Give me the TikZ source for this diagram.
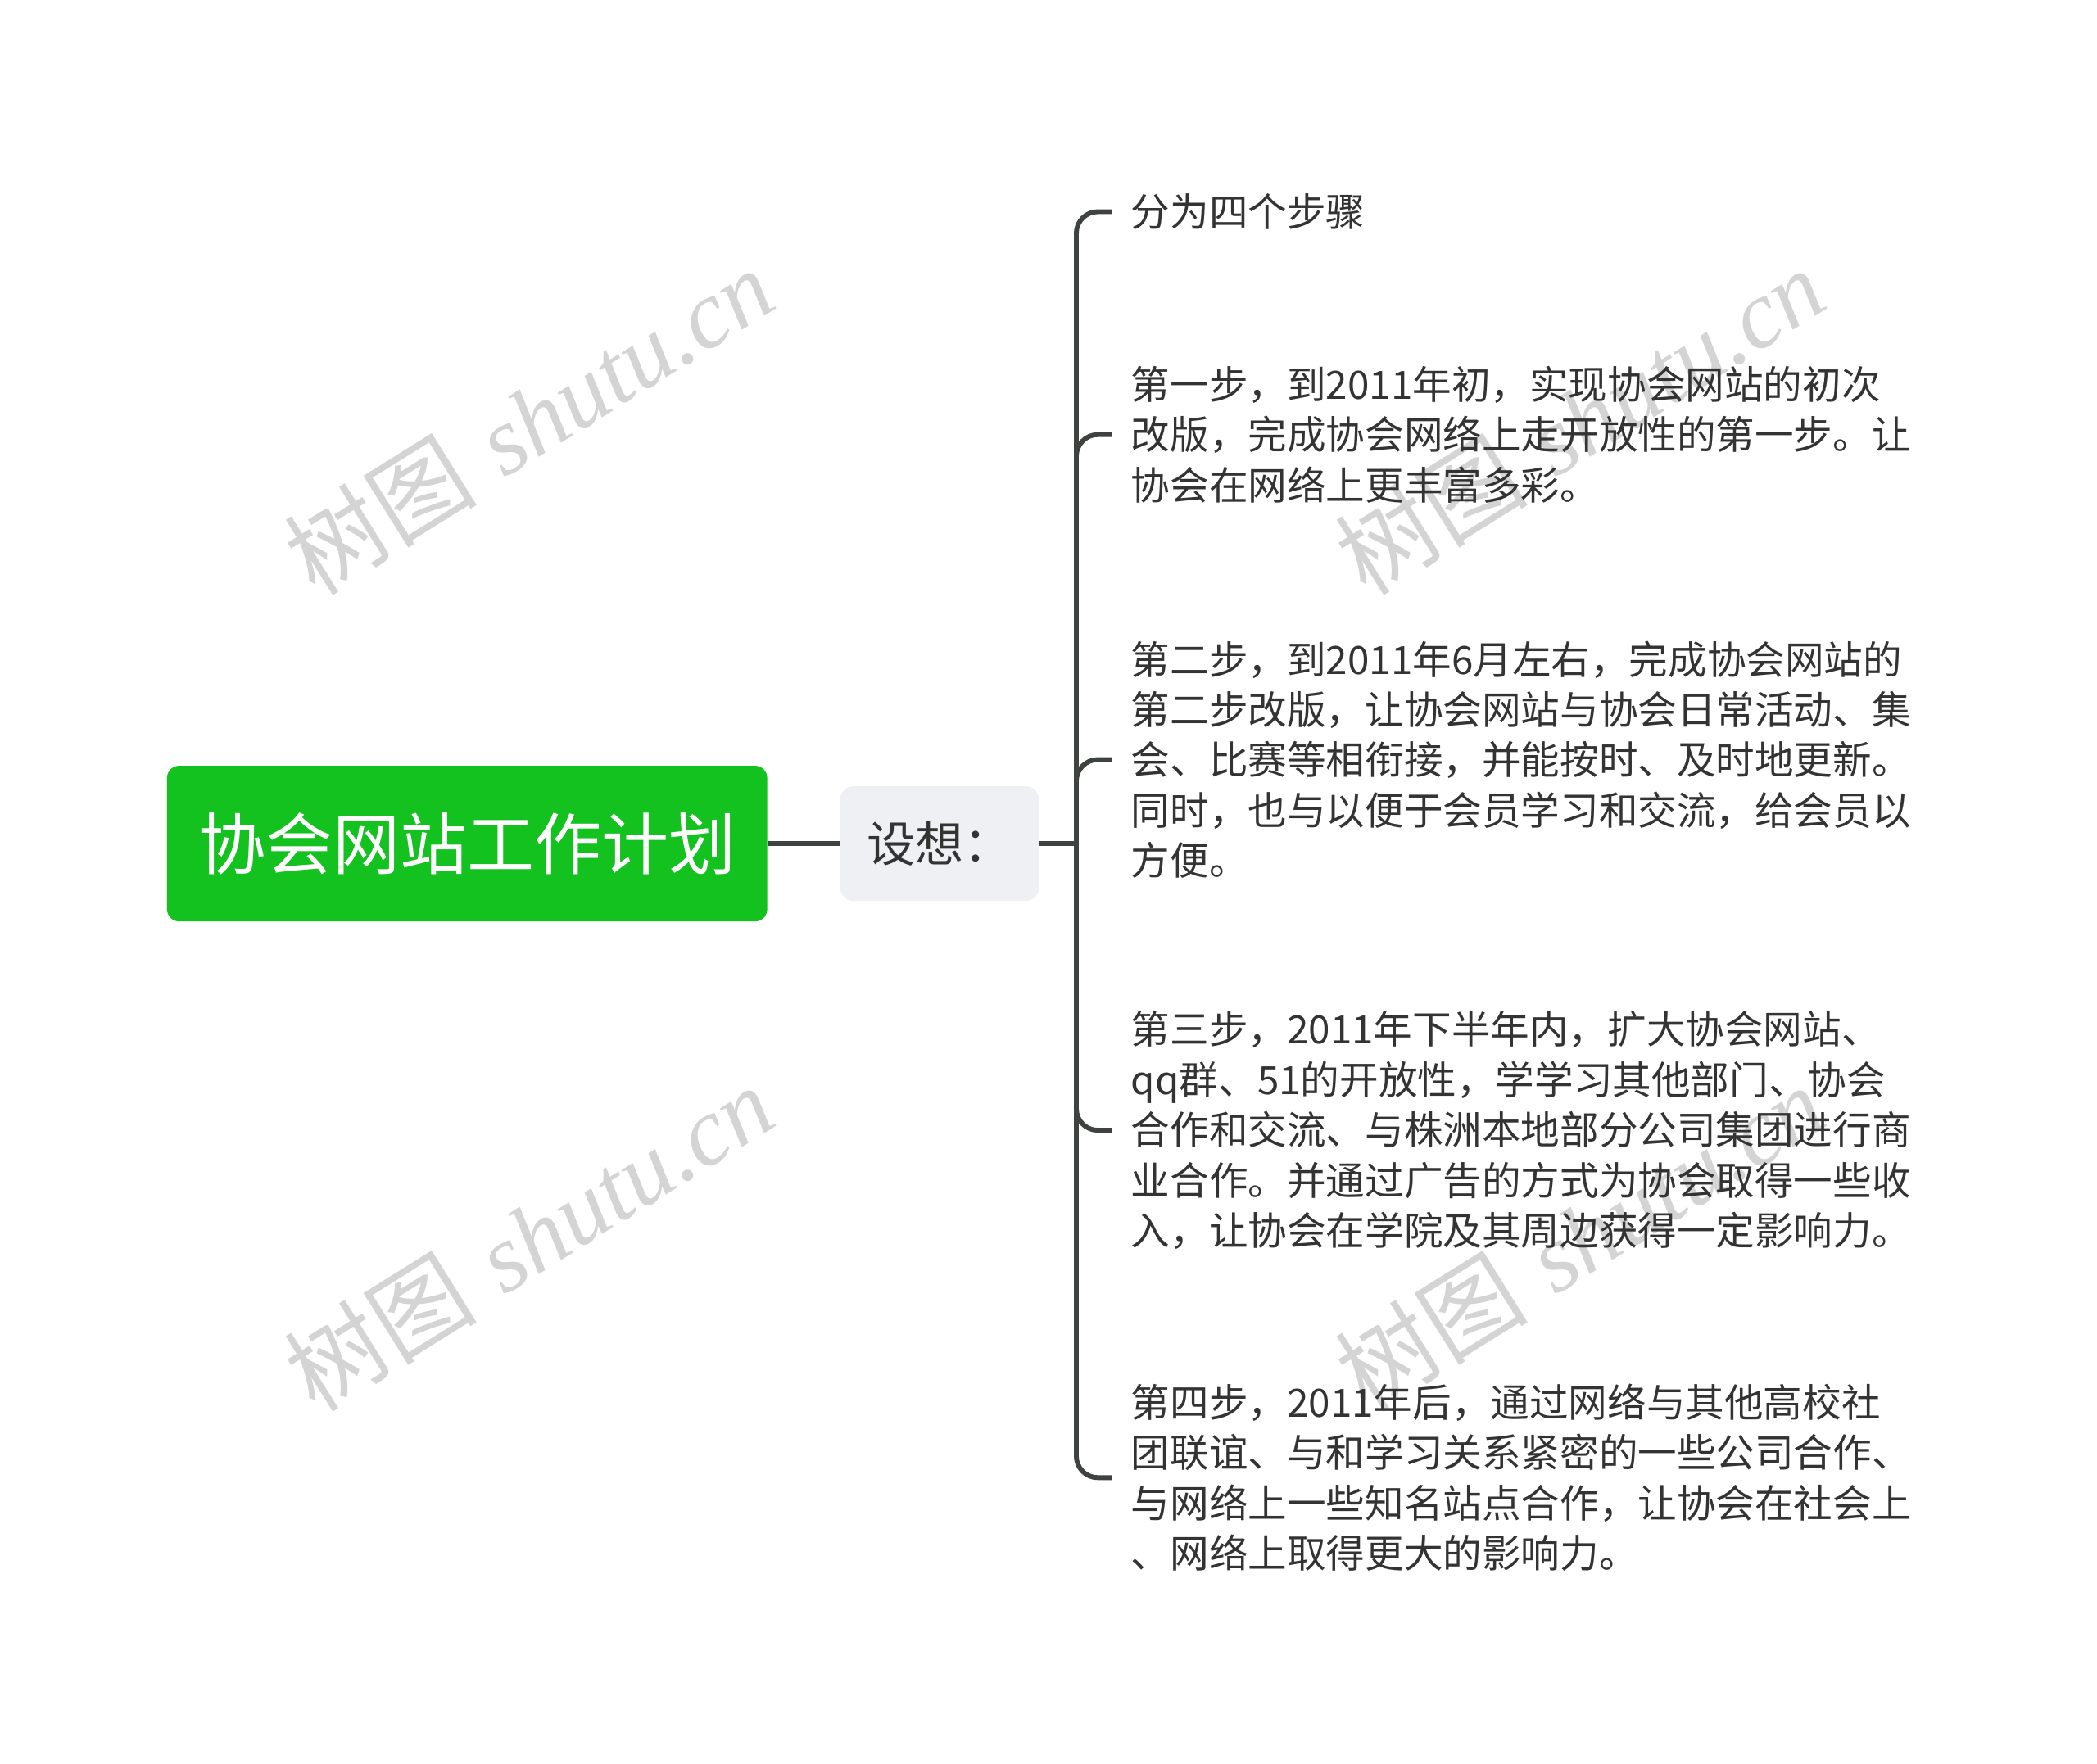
\documentclass[tikz,border=0pt]{standalone}
\usepackage{fontspec}
\newfontfamily\cjk{Noto Sans CJK SC}
\newfontfamily\wmlat{Liberation Serif}
\definecolor{maingreen}{HTML}{13C21F}
\definecolor{subfill}{HTML}{EEF0F3}
\definecolor{txt}{HTML}{333333}
\definecolor{linec}{HTML}{3E433F}
\definecolor{wmc}{HTML}{D4D4D4}
\begin{document}
\begin{tikzpicture}[x=1pt,y=-1pt,
  wm/.style={text=wmc,rotate=32,inner sep=0pt,font=\fontsize{72}{80}\selectfont},
  rootbox/.style={fill=maingreen,rounded corners=9pt,text=white,minimum width=446.5pt,minimum height=115.8pt,inner sep=0pt,font=\cjk\fontsize{50}{60}\selectfont},
  subbox/.style={fill=subfill,rounded corners=10pt,text=txt,minimum width=148pt,minimum height=85.4pt,inner sep=0pt,font=\cjk\fontsize{36}{44}\selectfont},
  leaf/.style={anchor=west,align=left,text=txt,inner xsep=14pt,inner ysep=0pt,font=\cjk\fontsize{29}{37.4}\selectfont},
  conn/.style={draw=linec,line width=3.6pt},
  branch/.style={conn,rounded corners=16pt}]
\useasboundingbox (0,0) rectangle (1560,1312);
% watermarks
\node[wm] (w1) at (393,313) {{\cjk 树图} {\wmlat\itshape shutu.cn}};
\node[wm] (w2) at (1175,313) {{\cjk 树图} {\wmlat\itshape shutu.cn}};
\node[wm] (w3) at (393,921) {{\cjk 树图} {\wmlat\itshape shutu.cn}};
\node[wm] (w4) at (1175,921) {{\cjk 树图} {\wmlat\itshape shutu.cn}};
% nodes
\node[rootbox] (root) at (347.5,627.7) {协会网站工作计划};
\node[subbox] (sub) at (699,627.7) {设想：};
\coordinate (j) at (800.7,627.7);
\node[leaf] (t0) at (827.3,157.5) {分为四个步骤};
\node[leaf] (t1) at (827.3,323.4) {第一步，到2011年初，实现协会网站的初次\\改版，完成协会网络上走开放性的第一步。让\\协会在网络上更丰富多彩。};
\node[leaf] (t2) at (827.3,565.2) {第二步，到2011年6月左右，完成协会网站的\\第二步改版，让协会网站与协会日常活动、集\\会、比赛等相衔接，并能按时、及时地更新。\\同时，也与以便于会员学习和交流，给会员以\\方便。};
\node[leaf] (t3) at (827.3,841) {第三步，2011年下半年内，扩大协会网站、\\qq群、51的开放性，学学习其他部门、协会\\合作和交流、与株洲本地部分公司集团进行商\\业合作。并通过广告的方式为协会取得一些收\\入，让协会在学院及其周边获得一定影响力。};
\node[leaf] (t4) at (827.3,1099.5) {第四步，2011年后，通过网络与其他高校社\\团联谊、与和学习关系紧密的一些公司合作、\\与网络上一些知名站点合作，让协会在社会上\\、网络上取得更大的影响力。};
% connectors
\draw[conn] (root.east) -- (sub.west);
\draw[conn] (sub.east) -- (j);
\draw[branch] (j) |- (t0.west);
\draw[branch] (j) |- (t1.west);
\draw[branch] (j) |- (t2.west);
\draw[branch] (j) |- (t3.west);
\draw[branch] (j) |- (t4.west);
\end{tikzpicture}
\end{document}
